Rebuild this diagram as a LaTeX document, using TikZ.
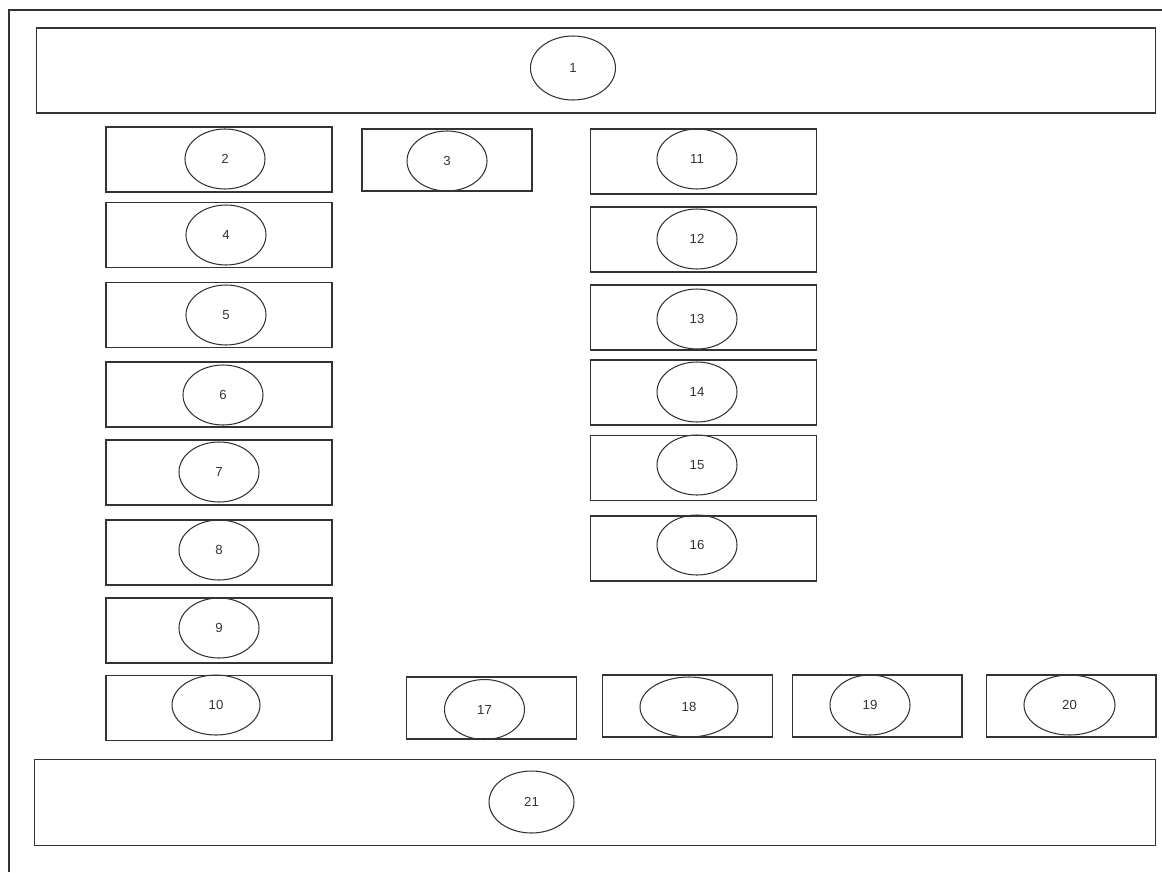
\documentclass[tikz,border=0pt]{standalone}
\usepackage{fontspec}
\setmainfont{Liberation Sans}
\usetikzlibrary{shapes.geometric}
\definecolor{linecol}{HTML}{333333}

\begin{document}
\begin{tikzpicture}[
  x=0.02cm, y=-0.02cm,
  font=\fontsize{7.5}{9}\selectfont,
  blk/.style={draw=linecol, line width=0.6pt, rectangle, inner sep=0pt,
    minimum width=4.52cm, minimum height=1.3cm},
  smallblk/.style={blk, minimum width=3.4cm, minimum height=1.24cm},
  wideblk/.style={blk, minimum width=22.4cm, minimum height=1.7cm},
  oval/.style={draw=linecol, line width=0.6pt, ellipse, inner sep=0pt,
    minimum width=1.6cm, minimum height=1.2cm, text=linecol},
]
\useasboundingbox (0,0) rectangle (1162,872);

% outer frame (runs off the right and bottom edge)
\draw[linecol, line width=0.6pt] (9,872) -- (9,10) -- (1162,10);

% =================== top band ===================
\node[wideblk] (b1) at (596,70.5) {};
\node[oval, minimum width=1.7cm, minimum height=1.28cm] (e1) at (573,68) {1};

% =================== left column ===================
\node[blk] (b2) at (219,159.5) {};
\node[oval] (e2) at (225,159) {2};
\node[blk] (b4) at (219,235) {};
\node[oval] (e4) at (226,235) {4};
\node[blk] (b5) at (219,315) {};
\node[oval] (e5) at (226,315) {5};
\node[blk] (b6) at (219,394.5) {};
\node[oval] (e6) at (223,395) {6};
\node[blk] (b7) at (219,472.5) {};
\node[oval] (e7) at (219,472) {7};
\node[blk] (b8) at (219,552.5) {};
\node[oval] (e8) at (219,550) {8};
\node[blk] (b9) at (219,630.5) {};
\node[oval] (e9) at (219,628) {9};
\node[blk] (b10) at (219,708) {};
\node[oval, minimum width=1.76cm] (e10) at (216,705) {10};

% =================== middle ===================
\node[smallblk] (b3) at (447,160) {};
\node[oval] (e3) at (447,161) {3};

% =================== right column ===================
\node[blk] (b11) at (703.5,161.5) {};
\node[oval] (e11) at (697,159) {11};
\node[blk] (b12) at (703.5,239.5) {};
\node[oval] (e12) at (697,239) {12};
\node[blk] (b13) at (703.5,317.5) {};
\node[oval] (e13) at (697,319) {13};
\node[blk] (b14) at (703.5,392.5) {};
\node[oval] (e14) at (697,392) {14};
\node[blk] (b15) at (703.5,468) {};
\node[oval] (e15) at (697,465) {15};
\node[blk] (b16) at (703.5,548.5) {};
\node[oval] (e16) at (697,545) {16};

% =================== bottom row ===================
\node[smallblk] (b17) at (491.5,708) {};
\node[oval] (e17) at (484.5,709.5) {17};
\node[smallblk] (b18) at (687.5,706) {};
\node[oval, minimum width=1.96cm] (e18) at (689,707) {18};
\node[smallblk] (b19) at (877,706) {};
\node[oval] (e19) at (870,705) {19};
\node[smallblk] (b20) at (1071,706) {};
\node[oval, minimum width=1.82cm] (e20) at (1069.5,705) {20};

% =================== bottom band ===================
\node[wideblk, minimum width=22.44cm, minimum height=1.72cm] (b21) at (595,802.5) {};
\node[oval, minimum width=1.7cm, minimum height=1.24cm] (e21) at (531.5,802) {21};

\end{tikzpicture}
\end{document}
